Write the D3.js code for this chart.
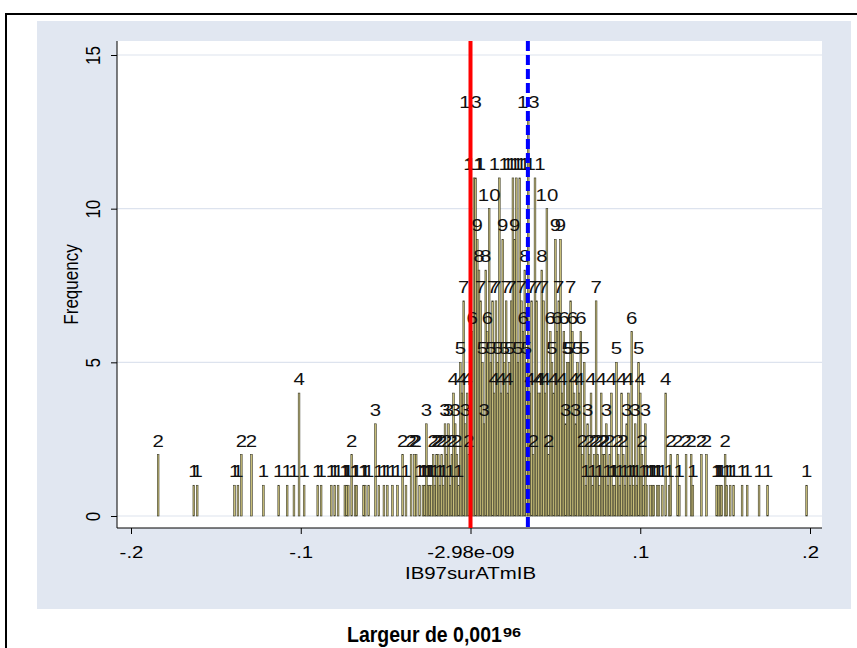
<!DOCTYPE html>
<html>
<head>
<meta charset="utf-8">
<script src="https://cdn.jsdelivr.net/npm/d3@7"></script>
<style>
  body { margin: 0; background: #fff; }
  svg text { font-family: "Liberation Sans", Arial, sans-serif; }
</style>
</head>
<body>
<div id="chart"></div>
<script>
// bin centres in thousandths (bin width 0.001) and their frequencies
const binK = [
  -184, -163, -161, -139, -137, -135, -129, -122, -113, -108, -104, -101, -98, -90, -88,
  -82, -80, -78, -74, -73, -72, -70, -68, -67, -63, -62, -60, -56, -54, -51, -49, -46,
  -43, -40, -38, -35, -33, -32, -30, -28,
  -27, -26, -25, -24, -23, -22, -21, -20, -19, -18, -17, -16, -15, -14, -13, -12, -11,
  -10, -9, -8, -7, -6, -5, -4, -3, -2, -1,
  0, 1, 2, 3, 4, 5, 6, 7, 8, 9, 10, 11, 12, 13, 14, 15, 16, 17, 18, 19,
  20, 21, 22, 23, 24, 25, 26, 27, 28, 29, 30, 31, 32, 33, 34, 35, 36, 37, 38, 39,
  40, 41, 42, 43, 44, 45, 46, 47, 48, 49, 50, 51, 52, 53, 54, 55, 56, 57, 58, 59,
  60, 61, 62, 63, 64, 65, 66, 67, 68, 69, 70, 71, 72, 73, 74, 75, 76, 77, 78, 79,
  80, 81, 82, 83, 84, 85, 86, 87, 88, 89, 90, 91, 92, 93, 94, 95, 96, 97, 98, 99,
  100, 101, 102, 103, 104, 106, 107, 108, 110, 111, 113, 115, 117, 118, 122, 123, 127,
  130, 131, 136, 139, 145, 146, 147, 148, 150, 151, 153, 155, 160, 163, 170, 175, 198
];
const freq = [
  2, 1, 1, 1, 1, 2, 2, 1, 1, 1, 1, 4, 1, 1, 1,
  1, 1, 1, 1, 1, 1, 2, 1, 1, 1, 1, 1, 3, 1, 1, 1, 1,
  1, 2, 1, 2, 2, 2, 1, 1,
  1, 3, 1, 1, 1, 2, 1, 2, 2, 1, 2, 1, 3, 2, 3, 1, 2,
  4, 3, 2, 1, 5, 4, 7, 3, 4, 2,
  13, 6, 11, 11, 9, 8, 7, 5, 3, 8, 6, 10, 5, 7, 4, 7, 5, 11, 4, 9,
  5, 7, 4, 5, 7, 11, 9, 11, 5, 11, 7, 6, 8, 5, 13, 4, 7, 2, 11, 7,
  4, 4, 8, 7, 4, 10, 2, 6, 5, 4, 9, 6, 7, 9, 4, 6, 3, 5, 5, 7,
  6, 4, 3, 5, 4, 6, 2, 5, 1, 3, 2, 4, 1, 2, 7, 2, 1, 4, 2, 2,
  3, 1, 2, 4, 1, 1, 5, 2, 1, 4, 2, 1, 3, 4, 1, 6, 1, 3, 1, 5,
  4, 2, 1, 3, 1, 1, 1, 1, 1, 1, 1, 4, 1, 2, 2, 1, 2,
  2, 1, 2, 2, 1, 1, 1, 1, 2, 1, 1, 1, 1, 1, 1, 1, 1
];
const binWidth = 0.001;
const xTicks = [-0.2, -0.1, -2.98e-09, 0.1, 0.2];
const xTickLabels = ["-.2", "-.1", "-2.98e-09", ".1", ".2"];
const yTicks = [0, 5, 10, 15];
const meanValue = -2.98e-09;
const medianValue = 0.0338;

const w = 857;
const h = 648;
// text in the original is drawn a bit wider than the font
const stretch = "scale(1.2,1)";

const svg = d3
  .select("#chart")
  .append("svg")
  .attr("width", w)
  .attr("height", h);

// outer frame and graph region
svg.append("rect")
  .attr("x", 6).attr("y", 14)
  .attr("width", 900).attr("height", 700)
  .attr("fill", "none").attr("stroke", "black").attr("stroke-width", 2);

svg.append("rect")
  .attr("x", 37).attr("y", 21)
  .attr("width", 814).attr("height", 588)
  .attr("fill", "#e1e7f1");

const plot = { left: 117, right: 822, top: 41, bottom: 528 };

svg.append("rect")
  .attr("x", plot.left).attr("y", plot.top)
  .attr("width", plot.right - plot.left).attr("height", plot.bottom - plot.top)
  .attr("fill", "white");

const x = d3.scaleLinear().domain([-0.2, 0.2]).range([131, 810]);
const y = d3.scaleLinear().domain([0, 15]).range([516, 55]);

// gridlines
svg.append("g")
  .selectAll("line")
  .data(yTicks)
  .join("line")
  .attr("x1", plot.left).attr("x2", plot.right)
  .attr("y1", (d) => y(d)).attr("y2", (d) => y(d))
  .attr("stroke", "#dde3ee").attr("stroke-width", 1.2);

const bars = binK.map((k, i) => ({ c: k * binWidth, n: freq[i] }));

svg.append("g")
  .selectAll("rect")
  .data(bars)
  .join("rect")
  .attr("x", (d) => x(d.c - binWidth / 2))
  .attr("width", (d) => x(d.c + binWidth / 2) - x(d.c - binWidth / 2))
  .attr("y", (d) => y(d.n))
  .attr("height", (d) => y(0) - y(d.n))
  .attr("fill", "#c9bf7a")
  .attr("stroke", "#3b3a28")
  .attr("stroke-width", 0.6);

svg.append("g")
  .selectAll("text")
  .data(bars)
  .join("text")
  .attr("transform", (d) => `translate(${x(d.c)},${y(d.n) - 8}) ${stretch}`)
  .attr("text-anchor", "middle")
  .attr("font-size", 17)
  .attr("fill", "#111")
  .text((d) => d.n);

// axes
const xAxis = d3.axisBottom(x)
  .tickValues(xTicks)
  .tickFormat((d, i) => xTickLabels[i])
  .tickSize(6);

const gx = svg.append("g")
  .attr("transform", `translate(0,${plot.bottom})`)
  .call(xAxis);
gx.select(".domain").attr("d", `M${plot.left},0H${plot.right}`).attr("stroke", "black");
gx.selectAll(".tick line").attr("stroke", "black");
gx.selectAll(".tick text")
  .attr("font-size", 17)
  .attr("font-family", "Liberation Sans, Arial, sans-serif")
  .attr("fill", "black")
  .attr("y", 30)
  .attr("dy", 0)
  .attr("transform", stretch);

const yAxis = d3.axisLeft(y).tickValues(yTicks).tickSize(6).tickFormat(d3.format("d"));
const gy = svg.append("g")
  .attr("transform", `translate(${plot.left},0)`)
  .call(yAxis);
gy.select(".domain").attr("d", `M0,${plot.top}V${plot.bottom}`).attr("stroke", "black");
gy.selectAll(".tick line").attr("stroke", "black");
gy.selectAll(".tick text")
  .attr("font-size", 17)
  .attr("font-family", "Liberation Sans, Arial, sans-serif")
  .attr("fill", "black")
  .attr("text-anchor", "middle")
  .attr("dy", 0)
  .attr("x", 0)
  .attr("transform", `translate(-17,0) ${stretch} rotate(-90)`);

svg.append("text")
  .attr("transform", `translate(78,${(plot.top + plot.bottom) / 2}) ${stretch} rotate(-90)`)
  .attr("text-anchor", "middle")
  .attr("font-size", 17)
  .text("Frequency");

svg.append("text")
  .attr("transform", `translate(${x(0)},579) ${stretch}`)
  .attr("text-anchor", "middle")
  .attr("font-size", 17)
  .text("IB97surATmIB");

// mean and median lines
svg.append("line")
  .attr("x1", x(meanValue)).attr("x2", x(meanValue))
  .attr("y1", plot.top).attr("y2", plot.bottom)
  .attr("stroke", "#ff0000").attr("stroke-width", 4);

svg.append("line")
  .attr("x1", x(medianValue)).attr("x2", x(medianValue))
  .attr("y1", plot.top).attr("y2", plot.bottom)
  .attr("stroke", "#0000ff").attr("stroke-width", 4)
  .attr("stroke-dasharray", "10,4");

// caption under the graph, narrow bold with a footnote mark
svg.append("text")
  .attr("transform", "translate(347,642) scale(0.886,1)")
  .attr("font-size", 22)
  .attr("font-weight", "bold")
  .text("Largeur de 0,001");

svg.append("text")
  .attr("transform", "translate(503,637) scale(1.25,1)")
  .attr("font-size", 13)
  .attr("font-weight", "bold")
  .text("96");
</script>
</body>
</html>
